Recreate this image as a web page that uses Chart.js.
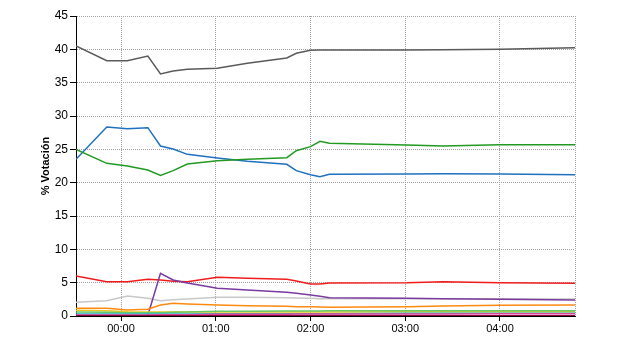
<!DOCTYPE html>
<html>
<head>
<meta charset="utf-8">
<script src="https://cdn.jsdelivr.net/npm/chart.js@4"></script>
<style>
  body { margin: 0; background: #fff; }
</style>
</head>
<body>
<canvas id="votos" width="640" height="350"></canvas>
<script>
// minutes relative to 00:00
const times = [-28.5, -9, 4, 17, 25, 33, 42, 61, 80, 105, 111, 120, 126, 132, 181, 204, 240, 287.5];

// % votación per party
const darkGray  = [40.5, 38.3, 38.3, 39.0, 36.3, 36.75, 37.0, 37.15, 37.9, 38.7, 39.4, 39.85, 39.9, 39.9, 39.9, 39.95, 40.0, 40.25];
const blue      = [23.5, 28.35, 28.1, 28.25, 25.5, 25.05, 24.25, 23.7, 23.2, 22.75, 21.8, 21.2, 20.9, 21.25, 21.3, 21.35, 21.3, 21.2];
const green     = [25.0, 22.9, 22.5, 21.9, 21.1, 21.8, 22.8, 23.3, 23.5, 23.75, 24.8, 25.4, 26.2, 25.9, 25.65, 25.5, 25.7, 25.7];
const red       = [6.0, 5.15, 5.15, 5.5, 5.4, 5.2, 5.15, 5.8, 5.65, 5.5, 5.25, 4.8, 4.8, 4.95, 5.0, 5.15, 5.0, 4.9];
const purple    = [0, 0, 0, 0.1, 6.4, 5.4, 4.95, 4.15, 3.9, 3.55, 3.4, 3.15, 2.95, 2.75, 2.65, 2.6, 2.5, 2.4];
const lightGray = [2.05, 2.3, 3.0, 2.65, 2.3, 2.45, 2.55, 2.8, 2.8, 2.75, 2.7, 2.65, 2.6, 2.6, 2.6, 2.6, 2.6, 2.55];
const orange    = [1.15, 1.15, 0.9, 1.0, 1.65, 1.9, 1.8, 1.65, 1.55, 1.45, 1.4, 1.4, 1.35, 1.3, 1.4, 1.5, 1.6, 1.65];
const yellow    = [0.85, 0.8, 0.65, 0.6, 0.6, 0.6, 0.6, 0.6, 0.6, 0.6, 0.6, 0.6, 0.6, 0.6, 0.65, 0.65, 0.65, 0.65];
const lightGreen= [0.6, 0.55, 0.5, 0.5, 0.5, 0.55, 0.6, 0.7, 0.7, 0.75, 0.75, 0.75, 0.75, 0.8, 0.8, 0.8, 0.8, 0.8];
const cyan      = [0.3, 0.3, 0.3, 0.3, 0.3, 0.3, 0.3, 0.35, 0.35, 0.35, 0.35, 0.35, 0.35, 0.35, 0.4, 0.4, 0.4, 0.4];
const pink      = [0.15, 0.15, 0.15, 0.15, 0.2, 0.2, 0.2, 0.25, 0.25, 0.25, 0.3, 0.3, 0.3, 0.3, 0.3, 0.3, 0.35, 0.35];
const darkRed   = [0.05, 0.05, 0.05, 0.05, 0.05, 0.05, 0.05, 0.05, 0.05, 0.05, 0.05, 0.05, 0.05, 0.05, 0.05, 0.05, 0.05, 0.05];

const yTicks = [0, 5, 10, 15, 20, 25, 30, 35, 40, 45];

function series(values, color) {
    return {
        data: values.map((v, i) => ({ x: times[i], y: v })),
        borderColor: color,
        borderWidth: 1.5,
        pointRadius: 0,
        fill: false,
        tension: 0
    };
}

function hhmm(m) {
    const h = ((Math.floor(m / 60) % 24) + 24) % 24;
    return String(h).padStart(2, '0') + ':00';
}

const onHour = ctx => ctx.tick && Math.abs(ctx.tick.value % 60) < 0.001;

// first dataset is drawn on top
const datasets = [
    series(darkRed, '#8b0a3a'),
    series(pink, '#e0409a'),
    series(cyan, '#20b4c4'),
    series(lightGreen, '#66c866'),
    series(yellow, '#e8c820'),
    series(orange, '#ff8a10'),
    series(purple, '#7a3a9e'),
    series(lightGray, '#c8c8c8'),
    series(red, '#f01c1c'),
    series(green, '#229a22'),
    series(blue, '#2070c0'),
    series(darkGray, '#5a5a5a')
];

const config = {
    type: 'line',
    data: { datasets: datasets },
    options: {
        responsive: false,
        animation: false,
        layout: { padding: { top: 16, right: 65, bottom: 0, left: 0 } },
        plugins: {
            legend: { display: false },
            tooltip: { enabled: false }
        },
        scales: {
            x: {
                type: 'linear',
                min: times[0],
                max: times[times.length - 1],
                afterFit: s => { s.height = 34; },
                afterBuildTicks: s => {
                    s.ticks = [times[0], 0, 60, 120, 180, 240, times[times.length - 1]].map(v => ({ value: v }));
                },
                ticks: {
                    autoSkip: false,
                    maxRotation: 0,
                    padding: 1,
                    color: '#000',
                    font: { family: 'Liberation Sans', size: 11 },
                    callback: v => (Math.abs(v % 60) < 0.001 ? hhmm(v) : '')
                },
                grid: {
                    color: '#a4a0a8',
                    lineWidth: 1,
                    tickLength: 5,
                    tickColor: ctx => (onHour(ctx) ? '#000' : 'rgba(0,0,0,0)')
                },
                border: { color: '#000', width: 1, dash: [1, 1] }
            },
            y: {
                min: 0,
                max: 45,
                afterFit: s => { s.width = 76; },
                afterBuildTicks: s => { s.ticks = yTicks.map(v => ({ value: v })); },
                ticks: {
                    padding: 2,
                    color: '#000',
                    font: { family: 'Liberation Sans', size: 12 }
                },
                grid: {
                    color: '#a4a0a8',
                    lineWidth: 1,
                    tickLength: 6,
                    tickColor: '#000'
                },
                border: { color: '#000', width: 1, dash: [1, 1] },
                title: {
                    display: true,
                    text: '% Votación',
                    color: '#000',
                    font: { family: 'Liberation Sans', size: 11, weight: 'bold' },
                    padding: { top: 39, bottom: 0 }
                }
            }
        }
    }
};

window.onload = function() {
    const ctx = document.getElementById('votos').getContext('2d');
    new Chart(ctx, config);
};
</script>
</body>
</html>
